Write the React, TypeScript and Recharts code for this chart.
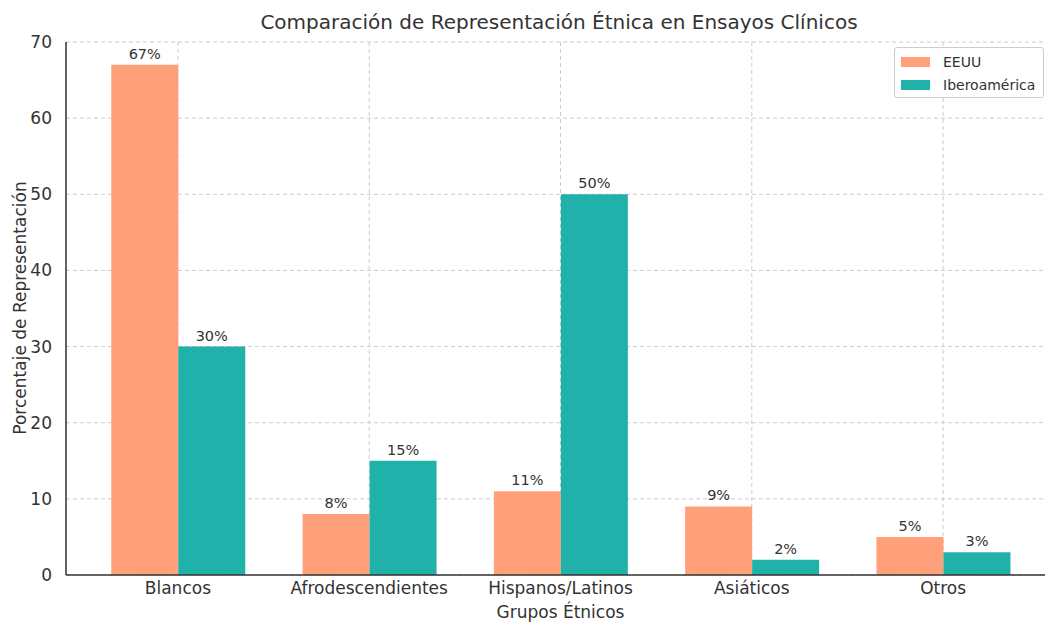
import React from "react";
import { BarChart, Bar, XAxis, YAxis, CartesianGrid, LabelList, Label } from "recharts";

const categories = ["Blancos", "Afrodescendientes", "Hispanos/Latinos", "Asiáticos", "Otros"];
const eeuu = [67, 8, 11, 9, 5];
const iberoamerica = [30, 15, 50, 2, 3];
const yTicks = [0, 10, 20, 30, 40, 50, 60, 70];

const SERIES = [
  { key: "eeuu", name: "EEUU", color: "#FFA07A" },
  { key: "ibero", name: "Iberoamérica", color: "#20B2AA" },
];

const data = categories.map((c, i) => ({ x: i, name: c, eeuu: eeuu[i], ibero: iberoamerica[i] }));

const FONT = "'DejaVu Sans', sans-serif";
const TXT = "#333333";

function LegendBox() {
  return (
    <div style={{
      position: "absolute", left: 894, top: 47, boxSizing: "border-box", height: 51,
      border: "1px solid #cccccc", borderRadius: 3, background: "rgba(255,255,255,0.85)",
      padding: "2px 8px 2px 6px", fontFamily: FONT, fontSize: 14, color: TXT,
    }}>
      {SERIES.map((s) => (
        <div key={s.key} style={{ display: "flex", alignItems: "center", height: 23 }}>
          <span style={{ width: 29, height: 10, background: s.color, marginRight: 13 }} />
          <span>{s.name}</span>
        </div>
      ))}
    </div>
  );
}

export default function App() {
  return (
    <div style={{ position: "absolute", left: 0, top: 0, width: 1045, height: 622, overflow: "hidden", background: "#fff" }}>
      <div style={{
        position: "absolute", left: 0, width: 1118, top: 10, textAlign: "center",
        fontFamily: FONT, fontSize: 20, color: TXT,
      }}>
        Comparación de Representación Étnica en Ensayos Clínicos
      </div>
      <BarChart width={1055} height={622} data={data} barSize={67} barGap={0}
        margin={{ top: 42, right: 0, left: 0, bottom: 0 }}>
        <CartesianGrid strokeDasharray="4 3" stroke="#cccccc" />
        <XAxis type="number" dataKey="x" domain={[-0.585, 4.585]} ticks={[0, 1, 2, 3, 4]}
          allowDataOverflow height={47}
          tickFormatter={(v: number) => categories[v] ?? ""}
          tick={{ fill: TXT, fontSize: 17, fontFamily: FONT }}
          axisLine={{ stroke: TXT, strokeWidth: 1.5 }} tickLine={false} tickMargin={1}>
          <Label value="Grupos Étnicos" position="insideBottom" offset={4}
            style={{ fill: TXT, fontSize: 17, fontFamily: FONT }} />
        </XAxis>
        <YAxis domain={[0, 70]} ticks={yTicks} width={66}
          tick={{ fill: TXT, fontSize: 17, fontFamily: FONT }}
          axisLine={{ stroke: TXT, strokeWidth: 1.5 }} tickLine={false} tickMargin={8}>
          <Label content={() => (
            <text x={20} y={308} transform="rotate(-90 20 308)" textAnchor="middle"
              dominantBaseline="central" fill={TXT} fontSize={17} fontFamily={FONT}>
              Porcentaje de Representación
            </text>
          )} />
        </YAxis>
        {SERIES.map((s) => (
          <Bar key={s.key} dataKey={s.key} name={s.name} fill={s.color} isAnimationActive={false}>
            <LabelList dataKey={s.key} position="top" offset={6}
              formatter={(v: number) => `${v}%`}
              style={{ fill: TXT, fontSize: 14.5, fontFamily: FONT }} />
          </Bar>
        ))}
      </BarChart>
      <LegendBox />
    </div>
  );
}
